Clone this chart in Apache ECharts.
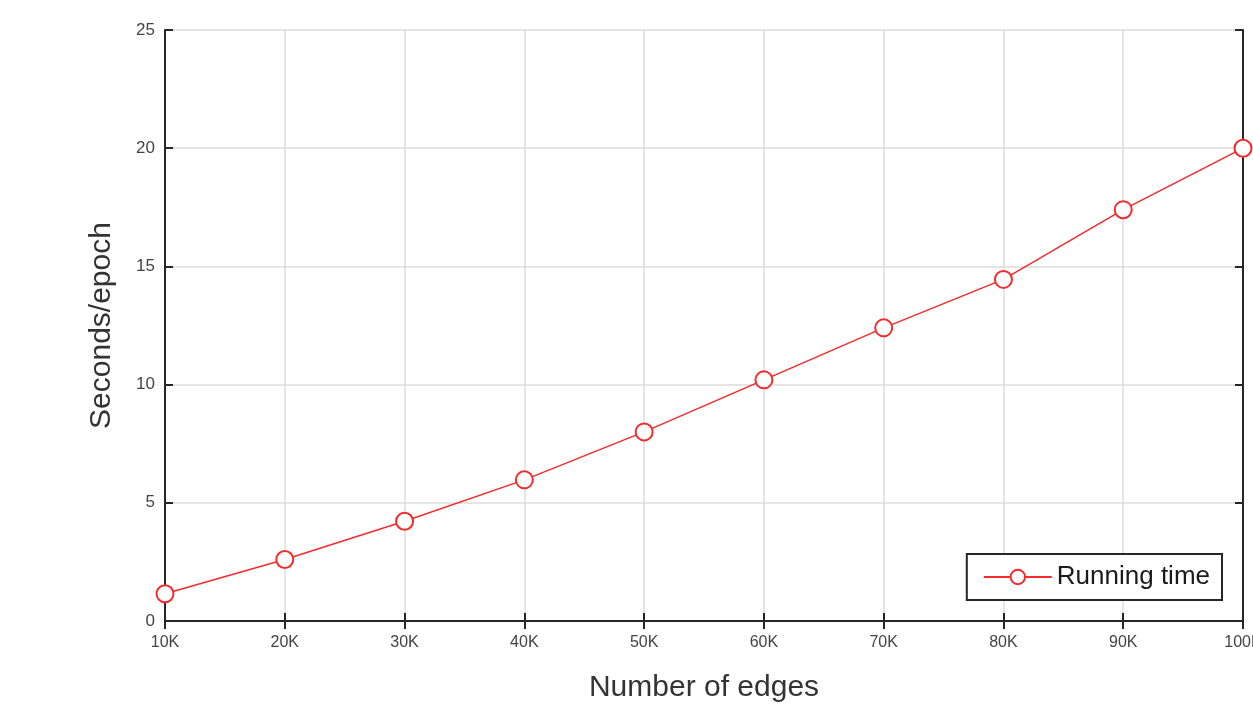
<!DOCTYPE html>
<html>
<head>
<meta charset="utf-8">
<script src="https://cdn.jsdelivr.net/npm/echarts@6/dist/echarts.min.js"></script>
<style>
  html, body { margin: 0; padding: 0; background: #fff; }
  #chart { width: 1253px; height: 706px; }
</style>
</head>
<body>
<div id="chart"></div>
<script>
const edgeLabels = ['10K', '20K', '30K', '40K', '50K', '60K', '70K', '80K', '90K', '100K'];
const runningTime = [1.15, 2.6, 4.22, 5.97, 8.0, 10.2, 12.4, 14.45, 17.4, 20.0];
const yMin = 0, yMax = 25, yStep = 5;

const font = 'Liberation Sans, Arial, sans-serif';
const dark = '#262626';
const red = '#f52a2a';

const chart = echarts.init(document.getElementById('chart'));

const boxAxis = {
  axisLine: { show: true, lineStyle: { color: dark, width: 2 } },
  axisTick: { show: true, inside: true, length: 8, lineStyle: { color: dark, width: 2 } },
};

chart.setOption({
  animation: false,
  backgroundColor: '#fff',
  grid: { left: 165, right: 10, top: 30, bottom: 85, outerBoundsMode: 'none' },
  legend: {
    right: 31, bottom: 106,
    backgroundColor: '#fff',
    borderColor: dark, borderWidth: 2,
    padding: [10, 12, 10, 16],
    itemWidth: 68, itemHeight: 18, itemGap: 4,
    textStyle: { fontFamily: font, fontSize: 26, color: '#1a1a1a' },
    data: ['Running time'],
  },
  xAxis: [{
    type: 'category',
    data: edgeLabels,
    boundaryGap: false,
    name: 'Number of edges',
    nameLocation: 'middle',
    nameGap: 52,
    nameTextStyle: { fontFamily: font, fontSize: 30, color: '#333' },
    ...boxAxis,
    axisLabel: { fontFamily: font, fontSize: 16, color: '#444', margin: 14 },
    splitLine: { show: true, lineStyle: { color: '#dcdcdc', width: 1.5 } },
  }, {
    type: 'category',
    data: edgeLabels,
    boundaryGap: false,
    position: 'top',
    ...boxAxis,
    axisLabel: { show: false },
    splitLine: { show: false },
  }],
  yAxis: [{
    type: 'value',
    min: yMin, max: yMax, interval: yStep,
    name: 'Seconds/epoch',
    nameLocation: 'middle',
    nameGap: 48,
    nameTextStyle: { fontFamily: font, fontSize: 30, color: '#333' },
    ...boxAxis,
    axisLabel: { fontFamily: font, fontSize: 17, color: '#444', margin: 10 },
    splitLine: { show: true, lineStyle: { color: '#dcdcdc', width: 1.5 } },
  }, {
    type: 'value',
    min: yMin, max: yMax, interval: yStep,
    position: 'right',
    ...boxAxis,
    axisLabel: { show: false },
    splitLine: { show: false },
  }],
  series: [{
    name: 'Running time',
    type: 'line',
    data: runningTime,
    symbol: 'emptyCircle',
    symbolSize: 17,
    lineStyle: { color: red, width: 1.5 },
    itemStyle: { color: red, borderColor: red, borderWidth: 1.5 },
    z: 5,
  }],
});
</script>
</body>
</html>
